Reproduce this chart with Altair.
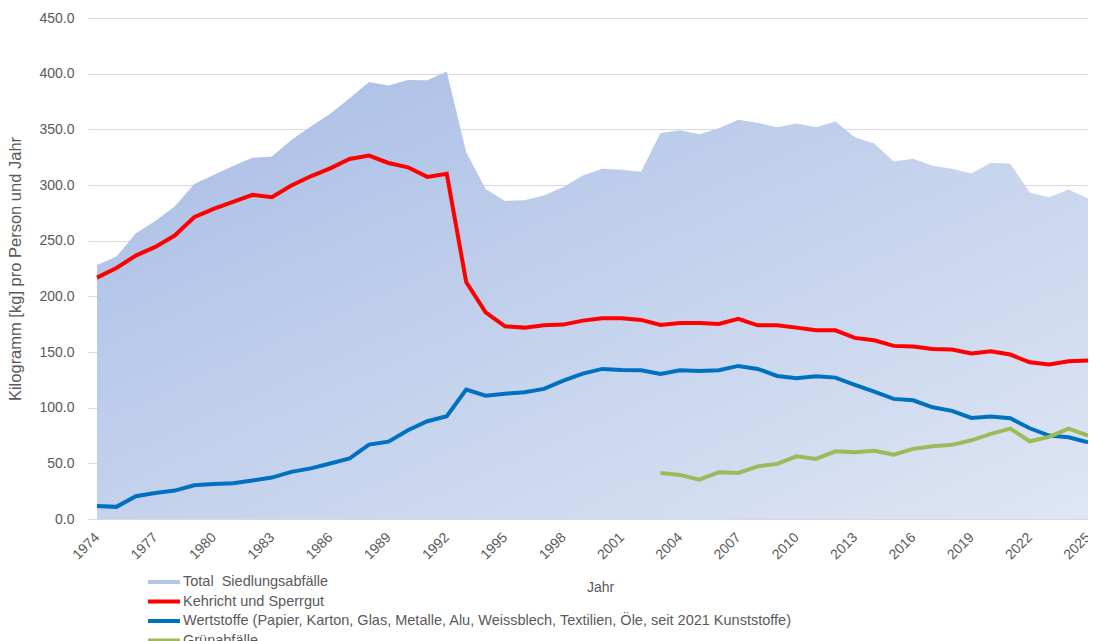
import altair as alt
import pandas as pd

# ---------------- data (kg per person and year) ----------------
years = list(range(1974, 2026))

total = [228.2, 235.7, 256.7, 267.7, 280.6, 301.0, 309.0, 317.0, 324.4, 325.5,
         340.5, 352.5, 363.9, 378.0, 392.6, 389.3, 394.4, 394.0, 401.9, 329.4,
         296.5, 285.7, 286.3, 290.5, 298.3, 308.5, 314.7, 313.6, 312.0, 346.8,
         349.2, 345.6, 351.0, 358.5, 356.0, 351.9, 355.2, 351.9, 357.0, 342.9,
         337.2, 321.0, 323.5, 317.4, 314.7, 310.3, 319.9, 319.0, 293.2, 289.0,
         295.9, 287.8]

kehricht = [216.8, 225.5, 236.6, 244.4, 254.6, 271.0, 278.5, 284.8, 291.1, 289.0,
            299.5, 307.8, 315.0, 323.4, 326.4, 319.8, 315.9, 307.3, 310.0, 212.8,
            185.7, 173.1, 171.9, 174.0, 174.6, 178.2, 180.3, 180.3, 178.8, 174.3,
            176.1, 176.1, 175.2, 179.7, 174.0, 174.0, 171.9, 169.5, 169.5, 162.7,
            160.5, 155.5, 155.0, 152.8, 152.2, 148.6, 150.7, 147.7, 140.8, 138.7,
            141.7, 142.3]

wertstoffe = [11.7, 10.9, 20.4, 23.4, 25.5, 30.3, 31.5, 32.1, 34.5, 37.2,
              42.3, 45.5, 49.8, 54.5, 66.8, 69.5, 79.7, 87.8, 92.3, 116.2,
              110.8, 112.6, 113.8, 116.9, 124.3, 130.6, 134.8, 133.9, 133.6, 130.3,
              133.6, 133.0, 133.6, 137.5, 134.8, 128.5, 126.4, 128.2, 127.0, 120.5,
              114.4, 107.9, 106.6, 100.3, 97.1, 90.8, 92.0, 90.5, 81.5, 74.9,
              73.4, 68.9]

gruen_years = list(range(2003, 2026))
gruen = [41.4, 39.6, 35.4, 42.0, 41.4, 47.3, 49.5, 56.3, 54.0, 60.8,
         59.9, 61.2, 57.8, 63.0, 65.3, 66.6, 70.7, 76.4, 81.2, 69.8,
         73.7, 81.2, 74.9]

names = ["Total\u00a0 Siedlungsabfälle",
         "Kehricht und Sperrgut",
         "Wertstoffe (Papier, Karton, Glas, Metalle, Alu, Weissblech, Textilien, Öle, seit 2021 Kunststoffe)",
         "Grünabfälle"]
colors = ["#b4c7e7", "#ff0000", "#0070c0", "#9bbb59"]

x_ticks = list(range(1974, 2026, 3))
y_ticks = list(range(0, 451, 50))

# ---------------- tables ----------------
df_total = pd.DataFrame({"Jahr": years, "Wert": total})
df_lines = pd.concat([
    pd.DataFrame({"Jahr": years, "Wert": kehricht, "Serie": names[1]}),
    pd.DataFrame({"Jahr": years, "Wert": wertstoffe, "Serie": names[2]}),
    pd.DataFrame({"Jahr": gruen_years, "Wert": gruen, "Serie": names[3]}),
], ignore_index=True)

FONT = "Liberation Sans"
GREY = "#595959"

x_enc = alt.X("Jahr:Q",
              scale=alt.Scale(domain=[1974, 2025], nice=False, zero=False),
              axis=alt.Axis(values=x_ticks, format="d", labelAngle=315,
                            labelAlign="right", labelBaseline="middle",
                            labelPadding=16, ticks=False, grid=False,
                            domain=True, domainColor="#d9d9d9", domainWidth=1,
                            labelFont=FONT, labelFontSize=14, labelColor=GREY,
                            labelOverlap=False, labelFlush=False,
                            title="Jahr", titleFont=FONT, titleFontSize=14,
                            titleFontWeight="normal", titleColor=GREY,
                            titleX=503, titleY=68, titleBaseline="middle"))

y_enc = alt.Y("Wert:Q",
              scale=alt.Scale(domain=[0, 450], nice=False),
              axis=alt.Axis(values=y_ticks, format=".1f", grid=True,
                            gridColor="#d9d9d9", gridWidth=1,
                            domain=False, ticks=True, tickSize=9,
                            tickColor="#d9d9d9", labelPadding=14,
                            labelFont=FONT, labelFontSize=14, labelColor=GREY,
                            title="Kilogramm [kg] pro Person und Jahr",
                            titleFont=FONT, titleFontSize=16.5,
                            titleFontWeight="normal", titleColor=GREY,
                            titleX=-81.5, titleY=250.5, titleAngle=270,
                            titleAlign="center", titleBaseline="middle"))

grad = alt.Gradient(
    gradient="linear",
    stops=[alt.GradientStop(color="#a7bde5", offset=0),
           alt.GradientStop(color="#dfe6f4", offset=1)],
    x1=0, y1=0, x2=1, y2=1)

area = alt.Chart(df_total).mark_area(color=grad).encode(x=x_enc, y=y_enc)

lines = alt.Chart(df_lines).mark_line(strokeWidth=4).encode(
    x="Jahr:Q",
    y="Wert:Q",
    color=alt.Color("Serie:N",
                    scale=alt.Scale(domain=names, range=colors),
                    sort=names,
                    legend=alt.Legend(
                        title=None, orient="none", legendX=49, legendY=557,
                        direction="vertical",
                        symbolType="stroke", symbolSize=1024,
                        symbolStrokeWidth=4, clipHeight=14,
                        labelFont=FONT, labelFontSize=14.5, labelColor=GREY,
                        labelOffset=1, rowPadding=4.5, labelLimit=0,
                        padding=0)),
)

chart = alt.layer(area, lines).properties(
    width=991, height=501,
    autosize=alt.AutoSizeParams(type="none"),
    padding={"left": 89, "top": 10, "right": 0, "bottom": 122},
    background="white",
).configure_view(stroke=None)

chart.save("out.html", embed_options={"renderer": "svg", "actions": False})
